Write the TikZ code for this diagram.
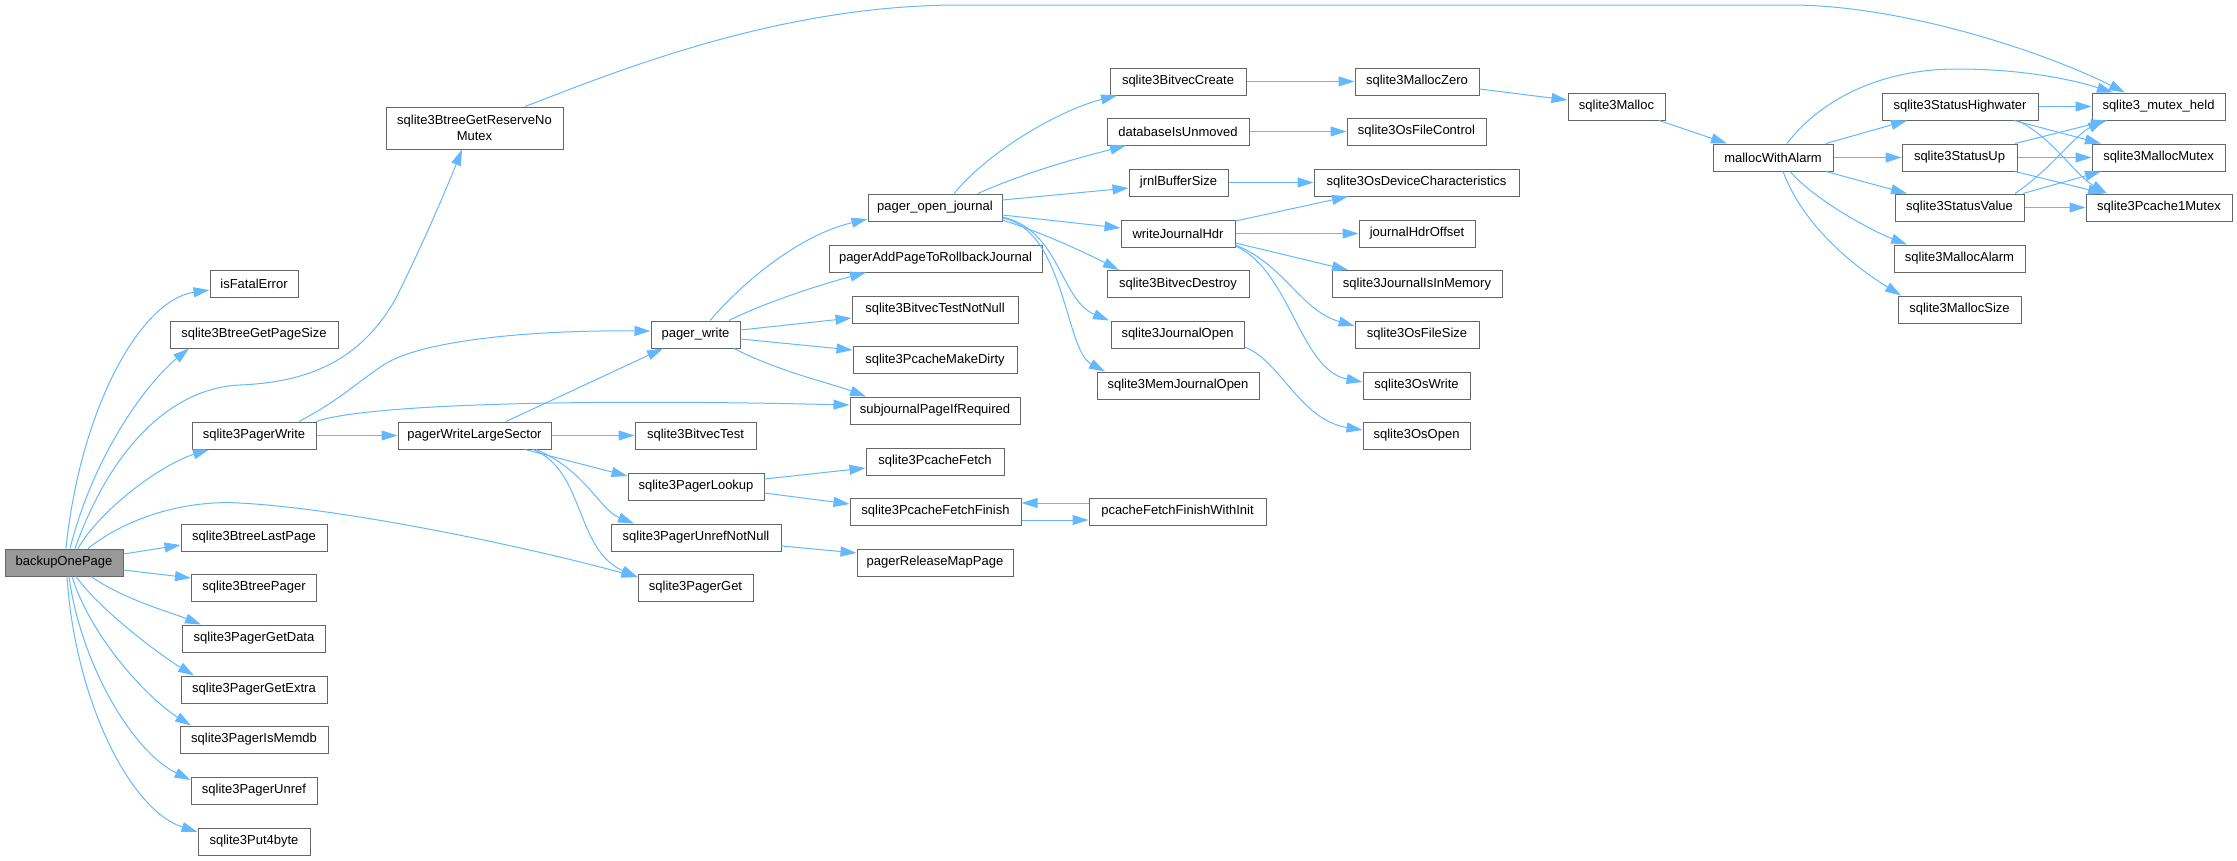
\documentclass[tikz,border=0pt]{standalone}
\usepackage{fontspec}
\setmainfont{Liberation Sans}
\usetikzlibrary{arrows.meta,calc}
\definecolor{edgeblue}{HTML}{63B8FF}
\definecolor{boxgray}{HTML}{666666}
\definecolor{fillgray}{HTML}{999999}
\begin{document}
\begin{tikzpicture}[x=0.75pt,y=-0.75pt,
  fn/.style={draw=boxgray, line width=0.75pt, fill=white, inner sep=0pt,
    minimum height=20.25pt, font=\fontsize{9.75}{12}\selectfont, text=black, align=center},
  bw/.style={minimum width=#1*0.75pt},
  lnk/.style={draw=edgeblue, line width=0.75pt, -{Triangle[length=12pt,width=7.5pt]}},
]
\useasboundingbox (0,0) rectangle (2237,860);

% column 0
\node[fn,bw=118,fill=fillgray] (bop) at (64,562.5) {backupOnePage};
% column 1
\node[fn,bw=88]  (ife) at (254,284)   {isFatalError};
\node[fn,bw=168] (gps) at (254,334.5) {sqlite3BtreeGetPageSize};
\node[fn,bw=177,minimum height=31.5pt] (grn) at (474.5,128) {sqlite3BtreeGetReserveNo\\Mutex};
\node[fn,bw=124] (pw)  at (254,435.5) {sqlite3PagerWrite};
\node[fn,bw=146] (blp) at (254,537.5) {sqlite3BtreeLastPage};
\node[fn,bw=125] (bpg) at (254,587.5) {sqlite3BtreePager};
\node[fn,bw=143] (pgd) at (254,638.5) {sqlite3PagerGetData};
\node[fn,bw=146] (pge) at (254,689.5) {sqlite3PagerGetExtra};
\node[fn,bw=148] (pim) at (254,739.5) {sqlite3PagerIsMemdb};
\node[fn,bw=126] (pun) at (254,790.5) {sqlite3PagerUnref};
\node[fn,bw=112] (p4b) at (254,841.5) {sqlite3Put4byte};
% column 2
\node[fn,bw=153] (pwls) at (474.5,435.5) {pagerWriteLargeSector};
% column 3
\node[fn,bw=89]  (pgw)  at (695.5,334.5) {pager\_write};
\node[fn,bw=121] (bvt)  at (695.5,435.5) {sqlite3BitvecTest};
\node[fn,bw=136] (plk)  at (696,486.5)   {sqlite3PagerLookup};
\node[fn,bw=170] (punn) at (696,537.5)   {sqlite3PagerUnrefNotNull};
\node[fn,bw=115] (pgt)  at (695.5,587.5) {sqlite3PagerGet};
% column 4
\node[fn,bw=134] (poj)   at (935,207.5)   {pager\_open\_journal};
\node[fn,bw=213] (paprj) at (935.5,258.5) {pagerAddPageToRollbackJournal};
\node[fn,bw=166] (btnn)  at (935,309.5)   {sqlite3BitvecTestNotNull};
\node[fn,bw=164] (pmd)   at (935,360)     {sqlite3PcacheMakeDirty};
\node[fn,bw=170] (spir)  at (935,410.5)   {subjournalPageIfRequired};
\node[fn,bw=138] (pcf)   at (935,461.5)   {sqlite3PcacheFetch};
\node[fn,bw=171] (pcff)  at (935.5,511.5) {sqlite3PcacheFetchFinish};
\node[fn,bw=156] (prmp)  at (935,562.5)   {pagerReleaseMapPage};
% column 5
\node[fn,bw=136] (bvc)  at (1178,81.5)    {sqlite3BitvecCreate};
\node[fn,bw=142] (diu)  at (1178,131.5)   {databaseIsUnmoved};
\node[fn,bw=99]  (jbs)  at (1178.5,182.5) {jrnlBufferSize};
\node[fn,bw=114] (wjh)  at (1178,233.5)   {writeJournalHdr};
\node[fn,bw=142] (bvd)  at (1178,284)     {sqlite3BitvecDestroy};
\node[fn,bw=133] (jo)   at (1177.5,334.5) {sqlite3JournalOpen};
\node[fn,bw=162] (mjo)  at (1178,385.5)   {sqlite3MemJournalOpen};
\node[fn,bw=177] (pffi) at (1177.5,511.5) {pcacheFetchFinishWithInit};
% column 6
\node[fn,bw=124] (mz)  at (1417,81.5)    {sqlite3MallocZero};
\node[fn,bw=139] (ofc) at (1416.5,131.5) {sqlite3OsFileControl};
\node[fn,bw=205] (odc) at (1416.5,182.5) {sqlite3OsDeviceCharacteristics};
\node[fn,bw=116] (jho) at (1417,233.5)   {journalHdrOffset};
\node[fn,bw=170] (jim) at (1417,284)     {sqlite3JournalIsInMemory};
\node[fn,bw=124] (ofs) at (1417,334.5)   {sqlite3OsFileSize};
\node[fn,bw=107] (ow)  at (1416.5,385.5) {sqlite3OsWrite};
\node[fn,bw=107] (oo)  at (1416.5,435.5) {sqlite3OsOpen};
% column 7-10
\node[fn,bw=97]  (sm)  at (1616.5,106.5) {sqlite3Malloc};
\node[fn,bw=120] (mwa) at (1773,157.5)   {mallocWithAlarm};
\node[fn,bw=156] (shw) at (1960,106.5)   {sqlite3StatusHighwater};
\node[fn,bw=115] (sup) at (1959.5,157.5) {sqlite3StatusUp};
\node[fn,bw=129] (sv)  at (1959.5,207.5) {sqlite3StatusValue};
\node[fn,bw=131] (ma)  at (1959.5,258.5) {sqlite3MallocAlarm};
\node[fn,bw=123] (ms)  at (1959.5,309.5) {sqlite3MallocSize};
\node[fn,bw=133] (mh)  at (2158.5,106.5) {sqlite3\_mutex\_held};
\node[fn,bw=133] (mm)  at (2158.5,157.5) {sqlite3MallocMutex};
\node[fn,bw=146] (p1m) at (2159,207.5)   {sqlite3Pcache1Mutex};

% backupOnePage edges
\draw[lnk] (bop.north -| 66,0) .. controls (80,410) and (140,300) .. (ife.west |- 0,290);
\draw[lnk] (bop.north -| 70,0) .. controls (95,450) and (150,380) .. (gps.south -| 189,0);
\draw[lnk] (bop.north -| 75,0) .. controls (110,450) and (170,388) .. (240,385)
   .. controls (310,382) and (360,360) .. (395,300) .. controls (425,240) and (450,180) .. (grn.south -| 462,0);
\draw[lnk] (bop.north -| 78,0) .. controls (100,510) and (160,465) .. (pw.south -| 209,0);
\draw[lnk] (bop.north -| 88,0) .. controls (130,515) and (190,500) .. (239,503)
   .. controls (340,508) and (520,545) .. (pgt.west |- 0,577);
\draw[lnk] (bop.east |- 0,554) -- (blp.west |- 0,545);
\draw[lnk] (bop.east |- 0,570) -- (bpg.west |- 0,578);
\draw[lnk] (bop.south -| 91,0) .. controls (125,600) and (170,612) .. (pgd.north -| 201,0);
\draw[lnk] (bop.south -| 76,0) .. controls (100,610) and (160,655) .. (pge.north -| 194,0);
\draw[lnk] (bop.south -| 72,0) .. controls (92,640) and (150,700) .. (pim.north -| 191,0);
\draw[lnk] (bop.south -| 69,0) .. controls (80,660) and (130,750) .. (pun.west |- 0,780);
\draw[lnk] (bop.south -| 67,0) .. controls (75,700) and (130,810) .. (p4b.west |- 0,832);

% sqlite3BtreeGetReserveNoMutex
\draw[lnk] (grn.north -| 525,0) .. controls (620,70) and (780,5) .. (960,5) -- (1790,5)
   .. controls (1900,5) and (2040,50) .. (mh.north -| 2125,0);

% sqlite3PagerWrite
\draw[lnk] (pw.north -| 299,0) .. controls (340,400) and (360,380) .. (385,364)
   .. controls (420,342) and (520,330) .. (pgw.west |- 0,331);
\draw[lnk] (pw.north -| 316,0) .. controls (370,403) and (600,399) .. (spir.west |- 0,405);
\draw[lnk] (pw) -- (pwls);

% pagerWriteLargeSector
\draw[lnk] (pwls.north -| 506,0) -- (pgw.south -| 663,0);
\draw[lnk] (pwls) -- (bvt);
\draw[lnk] (pwls.south -| 525,0) -- (plk.west |- 0,476);
\draw[lnk] (pwls.south -| 536,0) .. controls (585,470) and (600,510) .. (punn.north -| 634,0);
\draw[lnk] (pwls.south -| 533,0) .. controls (585,470) and (575,550) .. (pgt.west |- 0,577);

% pager_write
\draw[lnk] (pgw.north -| 710,0) .. controls (745,280) and (800,235) .. (poj.west |- 0,219);
\draw[lnk] (pgw.north -| 729,0) .. controls (770,300) and (830,282) .. (paprj.south -| 866,0);
\draw[lnk] (pgw.east |- 0,330) -- (btnn.west |- 0,318);
\draw[lnk] (pgw.east |- 0,339) -- (pmd.west |- 0,350);
\draw[lnk] (pgw.south -| 734,0) .. controls (780,372) and (830,383) .. (spir.north -| 866,0);

% pager_open_journal
\draw[lnk] (poj.north -| 954,0) .. controls (990,150) and (1060,110) .. (bvc.south -| 1117,0);
\draw[lnk] (poj.north -| 978,0) .. controls (1030,170) and (1090,155) .. (diu.south -| 1126,0);
\draw[lnk] (poj.east |- 0,200) -- (jbs.west |- 0,188);
\draw[lnk] (poj.east |- 0,215) -- (wjh.west |- 0,228);
\draw[lnk] (poj.east |- 0,220) .. controls (1040,232) and (1080,250) .. (bvd.north -| 1119,0);
\draw[lnk] (poj.east |- 0,217) .. controls (1060,230) and (1060,300) .. (jo.north -| 1109,0);
\draw[lnk] (poj.east |- 0,218) .. controls (1065,230) and (1065,350) .. (mjo.north -| 1105,0);

% column 5 -> 6
\draw[lnk] (bvc) -- (mz);
\draw[lnk] (diu) -- (ofc);
\draw[lnk] (jbs) -- (odc);
\draw[lnk] (wjh.east |- 0,221) -- (odc.south -| 1348,0);
\draw[lnk] (wjh) -- (jho);
\draw[lnk] (wjh.east |- 0,243) -- (jim.north -| 1348,0);
\draw[lnk] (wjh.east |- 0,245) .. controls (1285,265) and (1300,310) .. (ofs.west |- 0,326);
\draw[lnk] (wjh.east |- 0,246) .. controls (1290,270) and (1300,370) .. (ow.west |- 0,382);
\draw[lnk] (jo.east |- 0,347) .. controls (1280,360) and (1300,420) .. (oo.west |- 0,430);

% malloc chain
\draw[lnk] (mz.east |- 0,89) -- (sm.west |- 0,100);
\draw[lnk] (sm.south -| 1659,0) -- (mwa.north -| 1727,0);
\draw[lnk] (mwa.north -| 1787,0) .. controls (1820,100) and (1880,69) .. (1957,69)
   .. controls (2030,69) and (2080,82) .. (mh.north -| 2113,0);
\draw[lnk] (mwa.north -| 1826,0) -- (shw.south -| 1907,0);
\draw[lnk] (mwa) -- (sup);
\draw[lnk] (mwa.south -| 1826,0) -- (sv.north -| 1907,0);
\draw[lnk] (mwa.south -| 1790,0) .. controls (1815,200) and (1870,230) .. (ma.north -| 1907,0);
\draw[lnk] (mwa.south -| 1783,0) .. controls (1805,230) and (1860,270) .. (ms.north -| 1901,0);

% status
\draw[lnk] (shw) -- (mh);
\draw[lnk] (shw.south -| 2014,0) -- (mm.north -| 2101,0);
\draw[lnk] (shw.south -| 2017,0) .. controls (2050,135) and (2075,175) .. (p1m.north -| 2107,0);
\draw[lnk] (sup.north -| 2015,0) -- (mh.south -| 2107,0);
\draw[lnk] (sup) -- (mm);
\draw[lnk] (sup.south -| 2015,0) -- (p1m.north -| 2104,0);
\draw[lnk] (sv.north -| 2015,0) .. controls (2050,170) and (2075,135) .. (mh.south -| 2104,0);
\draw[lnk] (sv.north -| 2023,0) -- (mm.south -| 2101,0);
\draw[lnk] (sv) -- (p1m);

% pcache
\draw[lnk] (plk.east |- 0,479) -- (pcf.west |- 0,468);
\draw[lnk] (plk.east |- 0,493) -- (pcff.west |- 0,504);
\draw[lnk] (pffi.west |- 0,503) -- (pcff.east |- 0,503);
\draw[lnk] (pcff.east |- 0,520) -- (pffi.west |- 0,520);
\draw[lnk] (punn.east |- 0,546) -- (prmp.west |- 0,553);
\end{tikzpicture}
\end{document}
